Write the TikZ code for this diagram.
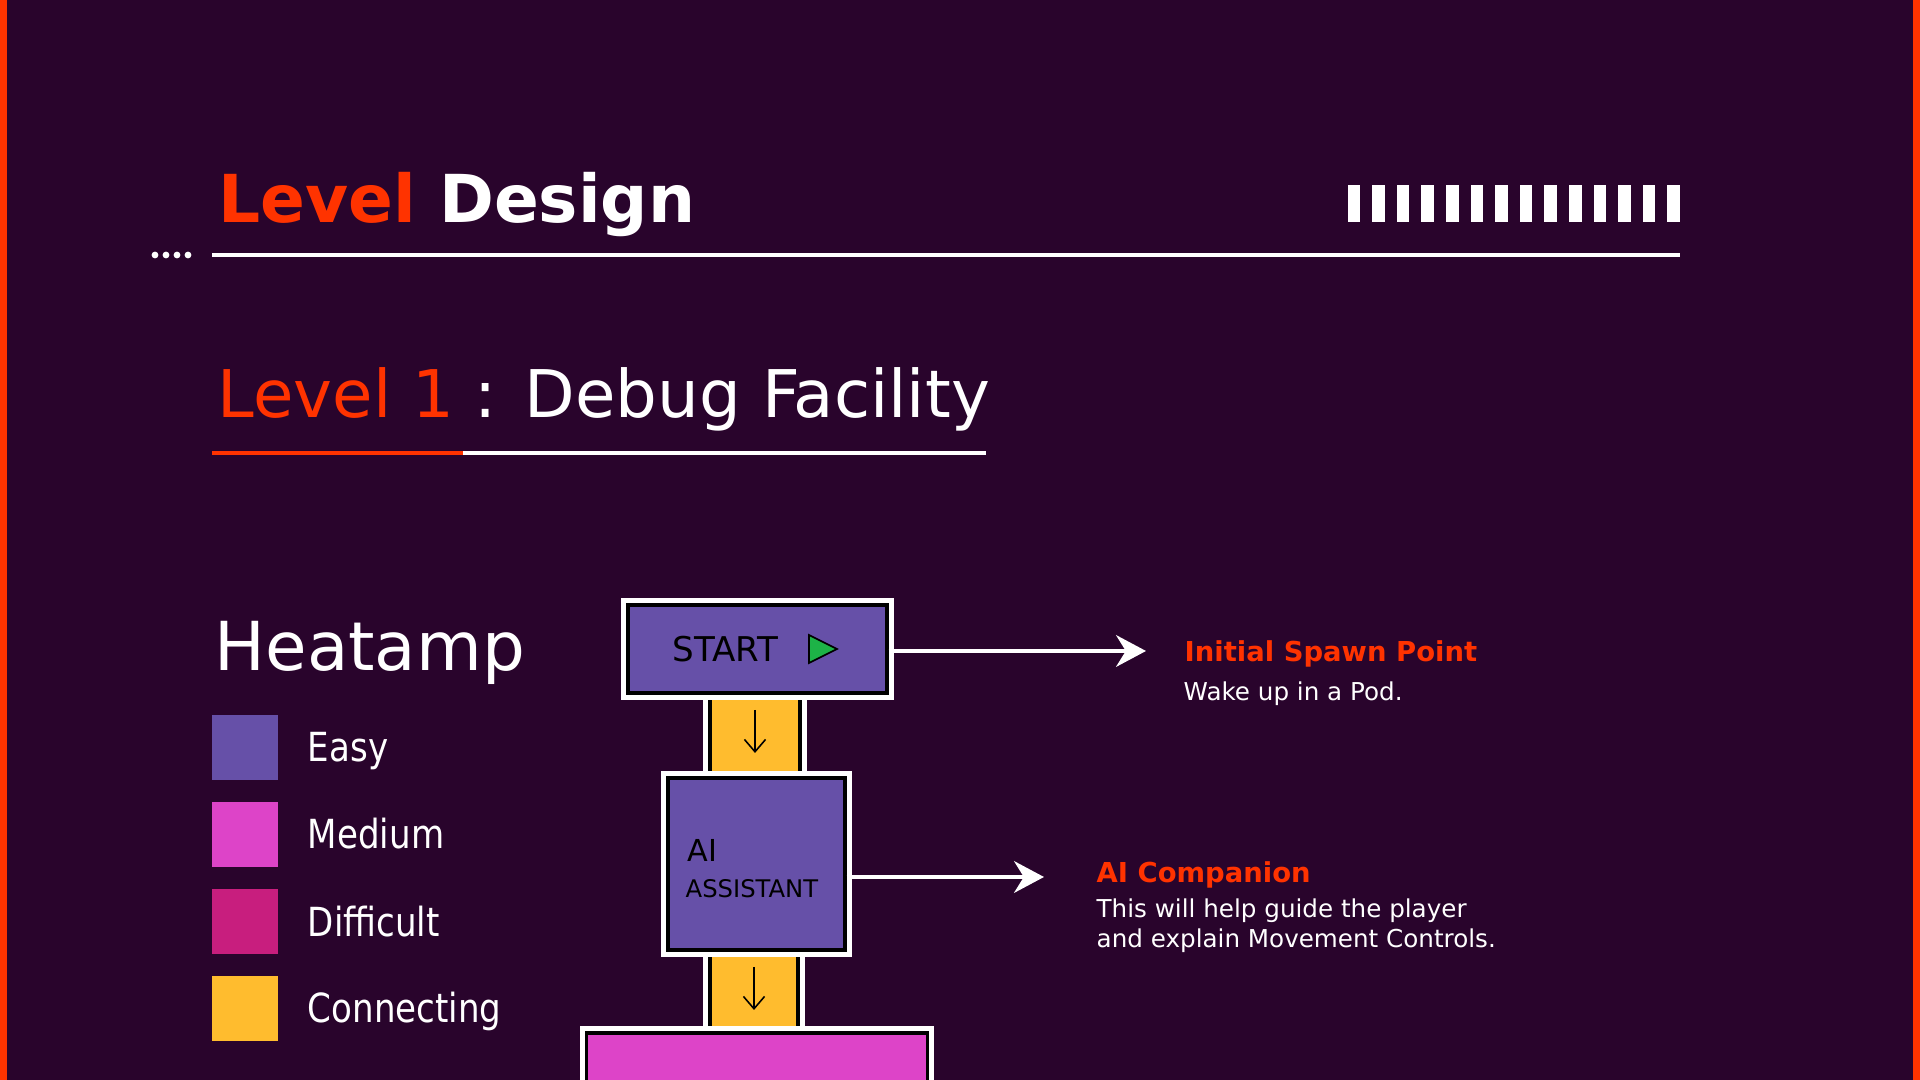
\documentclass[tikz,border=0pt]{standalone}
\usepackage{fontspec}
\setmainfont{DejaVu Sans}
\newfontfamily\narrowfont[FakeStretch=0.85]{DejaVu Sans}
\usetikzlibrary{positioning,calc,arrows.meta}

\definecolor{bgplum}{HTML}{29042C}
\definecolor{hotred}{HTML}{FF3300}
\definecolor{easyc}{HTML}{6650A8}
\definecolor{mediumc}{HTML}{DD44C8}
\definecolor{hardc}{HTML}{C81E7E}
\definecolor{linkc}{HTML}{FFBC2E}
\definecolor{playc}{HTML}{1DB347}

\tikzset{
	titletxt/.style={font=\bfseries\fontsize{18.8pt}{23pt}\selectfont, text=white, inner sep=0, anchor=base west},
	leveltxt/.style={font=\fontsize{18.7pt}{22pt}\selectfont, text=white, inner sep=0, anchor=base west},
	legendtxt/.style={font=\narrowfont\fontsize{11.4pt}{13pt}\selectfont, text=white, inner sep=0, text height=0.29cm, text depth=0pt},
	swatch/.style={minimum size=0.65cm, inner sep=0},
	room/.style={draw=black, line width=0.9pt, inner sep=0, preaction={draw=white, line width=4pt}},
	roomtxt/.style={font=\fontsize{#1}{12pt}\selectfont, text=black, inner sep=0, anchor=base west},
	headtxt/.style={font=\bfseries\fontsize{7.8pt}{9pt}\selectfont, text=hotred, inner sep=0, anchor=base west},
	notetxt/.style={font=\fontsize{7pt}{8.5pt}\selectfont, text=white, inner sep=0, anchor=base west},
	flow/.style={draw=white, line width=1.15pt, -{Stealth[length=8.5pt,width=9pt]}},
	downarrow/.style={draw=black, line width=0.45pt, -{Straight Barb[length=3.5pt,width=6pt]}}
}

\begin{document}
\begin{tikzpicture}[x=0.01cm, y=-0.01cm]
		\path[use as bounding box, fill=bgplum] (0,0) rectangle (1920,1080);
		\clip (0,0) rectangle (1920,1080);
		\fill[hotred] (0,0) rectangle (7,1080);
		\fill[hotred] (1913,0) rectangle (1920,1080);

		% header
		\node[titletxt] (title) at (218,223) {{\color{hotred}Level} Design};
		\foreach \k in {0,...,13}
			\fill[white] ({1347.6+24.6*\k},185) rectangle ++(12.6,37);
		\foreach \x in {155,166,177,188}
			\fill[white] (\x,255) circle (0.034cm);
		\draw[white, line width=1.3pt] (212,255) -- (1680,255);

		\node[leveltxt] (levelname) at (217,418) {{\color{hotred}Level 1} : Debug Facility};
		\draw[hotred, line width=1.3pt] (212,453) -- (463,453);
		\draw[white, line width=1.3pt] (463,453) -- (986,453);

		% legend
		\node[leveltxt, font=\fontsize{19.2pt}{23pt}\selectfont] (heat) at (214,671) {Heatamp};
		\foreach \name/\col/\txt [count=\i] in {easy/easyc/Easy, medium/mediumc/Medium, hard/hardc/Difficult, link/linkc/Connecting} {
			\node[swatch, fill=\col] (\name) at (245,{747.5+87*(\i-1)}) {};
			\node[legendtxt, right=0.29cm of \name] (\name txt) {\txt};
		}

		% level flow
		\node[room, fill=linkc, minimum width=0.9cm, minimum height=0.9cm] (link1) at (755,735) {};
		\node[room, fill=linkc, minimum width=0.88cm, minimum height=0.9cm] (link2) at (754,991) {};
		\node[room, fill=easyc, minimum width=2.59cm, minimum height=0.88cm] (start) at (757.5,649) {};
		\node[roomtxt=9.7pt] (startname) at (672,662) {START};
		\fill[playc, draw=black, line width=0.5pt] (809,635) -- (837,649) -- (809,663) -- cycle;
		\node[room, fill=easyc, minimum width=1.77cm, minimum height=1.72cm] (ai) at (756.5,864) {};
		\node[roomtxt=8.6pt] (ainame) at (687,862) {AI};
		\node[roomtxt=6.9pt] (aiwork) at (685,898) {ASSISTANT};
		\node[room, fill=mediumc, minimum width=3.4cm, minimum height=1.2cm] (pod) at (757,1093) {};
		\draw[downarrow] ($(link1.center)+(0,-25)$) -- ($(link1.center)+(0,18)$);
		\draw[downarrow] ($(link2.center)+(0,-24)$) -- ($(link2.center)+(0,19)$);

		% notes
		\coordinate (spawntip) at (1146,651);
		\draw[flow] (start.east |- spawntip) -- (spawntip);
		\node[headtxt] (spawnhead) at (1184,662) {Initial Spawn Point};
		\node[notetxt] (spawnnote) at (1183,701) {Wake up in a Pod.};

		\coordinate (aitip) at (1044,877);
		\draw[flow] (ai.east |- aitip) -- (aitip);
		\node[headtxt] (aihead) at (1096,883) {AI Companion};
		\node[notetxt] (ainote) at (1096,918) {This will help guide the player};
		\node[notetxt] (ainote2) at (1096,948) {and explain Movement Controls.};
	\end{tikzpicture}
\end{document}
